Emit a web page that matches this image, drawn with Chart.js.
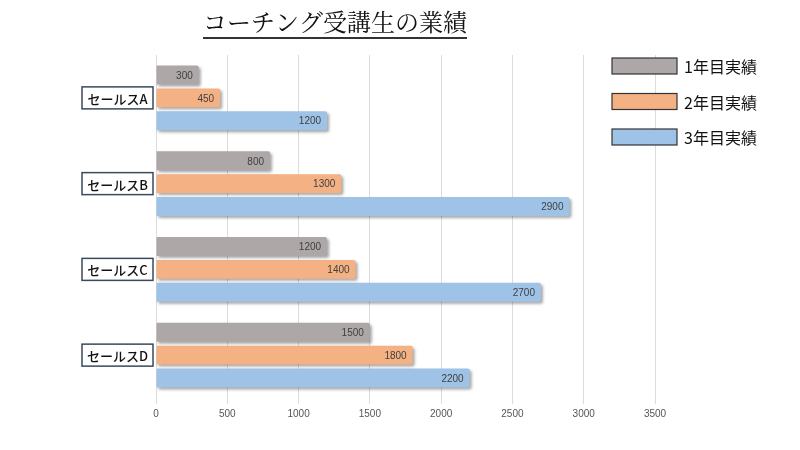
<!DOCTYPE html>
<html lang="ja">
<head>
  <meta charset="UTF-8" />
  <title>コーチング受講生の業績</title>
  <script src="https://cdn.jsdelivr.net/npm/chart.js"></script>
  <style>
    html, body { margin: 0; padding: 0; background: #fff; }
    #wrap { width: 800px; height: 450px; position: relative; }
  </style>
</head>
<body>
  <div id="wrap"><canvas id="grafica"></canvas></div>

  <script>
    // datos
    const titulo = 'コーチング受講生の業績';
    const categorias = ['セールスA', 'セールスB', 'セールスC', 'セールスD'];
    const series = ['1年目実績', '2年目実績', '3年目実績'];
    const ano1 = [300, 800, 1200, 1500];
    const ano2 = [450, 1300, 1400, 1800];
    const ano3 = [1200, 2900, 2700, 2200];
    const colores = ['#ada8a7', '#f4b184', '#9fc3e7'];
    const ticksX = [0, 500, 1000, 1500, 2000, 2500, 3000, 3500];

    const fuenteJa = '"Noto Sans CJK JP", "Noto Sans", sans-serif';

    // sombra para las barras
    const sombra = {
      id: 'sombra',
      beforeDatasetsDraw(chart) {
        const ctx = chart.ctx;
        ctx.save();
        ctx.shadowColor = 'rgba(0,0,0,0.35)';
        ctx.shadowOffsetX = 2;
        ctx.shadowOffsetY = 2;
        ctx.shadowBlur = 3;
      },
      afterDatasetsDraw(chart) {
        chart.ctx.restore();
      }
    };

    // titulo, etiquetas de categoria, leyenda y valores
    const extras = {
      id: 'extras',
      afterDraw(chart) {
        const ctx = chart.ctx;
        const y = chart.scales.y;
        ctx.save();

        // titulo subrayado
        ctx.font = '24px "Noto Serif CJK JP", "DejaVu Serif", ' + fuenteJa;
        ctx.fillStyle = '#111';
        ctx.textAlign = 'center';
        ctx.textBaseline = 'alphabetic';
        ctx.fillText(titulo, 335, 31);
        const w = ctx.measureText(titulo).width;
        ctx.strokeStyle = '#333';
        ctx.lineWidth = 2;
        ctx.beginPath();
        ctx.moveTo(335 - w / 2, 38);
        ctx.lineTo(335 + w / 2, 38);
        ctx.stroke();

        // cajas de categoria
        ctx.font = '500 13px ' + fuenteJa;
        ctx.textBaseline = 'middle';
        categorias.forEach((c, i) => {
          const cy = y.getPixelForValue(i);
          ctx.fillStyle = '#fff';
          ctx.fillRect(82, cy - 11, 71, 22);
          ctx.strokeStyle = '#3a4a5c';
          ctx.lineWidth = 1.5;
          ctx.strokeRect(82, cy - 11, 71, 22);
          ctx.fillStyle = '#111';
          ctx.fillText(c, 117.5, cy + 1);
        });

        // leyenda
        ctx.font = '16px ' + fuenteJa;
        ctx.textAlign = 'left';
        series.forEach((s, i) => {
          const ly = 66 + i * 35.5;
          ctx.fillStyle = colores[i];
          ctx.fillRect(612, ly - 8, 65, 16);
          ctx.strokeStyle = '#333';
          ctx.lineWidth = 1.2;
          ctx.strokeRect(612, ly - 8, 65, 16);
          ctx.fillStyle = '#111';
          ctx.fillText(s, 684, ly + 1);
        });

        // valores dentro de las barras
        ctx.font = '10px "Liberation Sans", "DejaVu Sans", sans-serif';
        ctx.textAlign = 'right';
        ctx.fillStyle = '#404040';
        chart.data.datasets.forEach((ds, di) => {
          chart.getDatasetMeta(di).data.forEach((bar, i) => {
            ctx.fillText(ds.data[i], bar.x - 6, bar.y + 1);
          });
        });

        ctx.restore();
      }
    };

    new Chart(document.getElementById('grafica'), {
      type: 'bar',
      data: {
        labels: categorias,
        datasets: [
          { label: series[0], data: ano1, backgroundColor: colores[0] },
          { label: series[1], data: ano2, backgroundColor: colores[1] },
          { label: series[2], data: ano3, backgroundColor: colores[2] }
        ]
      },
      options: {
        indexAxis: 'y',
        responsive: true,
        maintainAspectRatio: false,
        animation: false,
        layout: { padding: { left: 156, right: 145, top: 55, bottom: 26 } },
        datasets: {
          bar: { categoryPercentage: 0.8, barPercentage: 0.83, borderRadius: 2, borderSkipped: 'left' }
        },
        plugins: {
          legend: { display: false },
          tooltip: { enabled: false }
        },
        scales: {
          x: {
            min: 0,
            max: 3500,
            afterBuildTicks(ax) { ax.ticks = ticksX.map(v => ({ value: v })); },
            grid: { color: '#dcdcdc', tickLength: 6, drawTicks: true },
            border: { display: false },
            ticks: {
              color: '#555',
              font: { size: 10, family: '"Liberation Sans", sans-serif' },
              padding: 4,
              callback: v => String(v)
            }
          },
          y: {
            display: false
          }
        }
      },
      plugins: [sombra, extras]
    });
  </script>
</body>
</html>
